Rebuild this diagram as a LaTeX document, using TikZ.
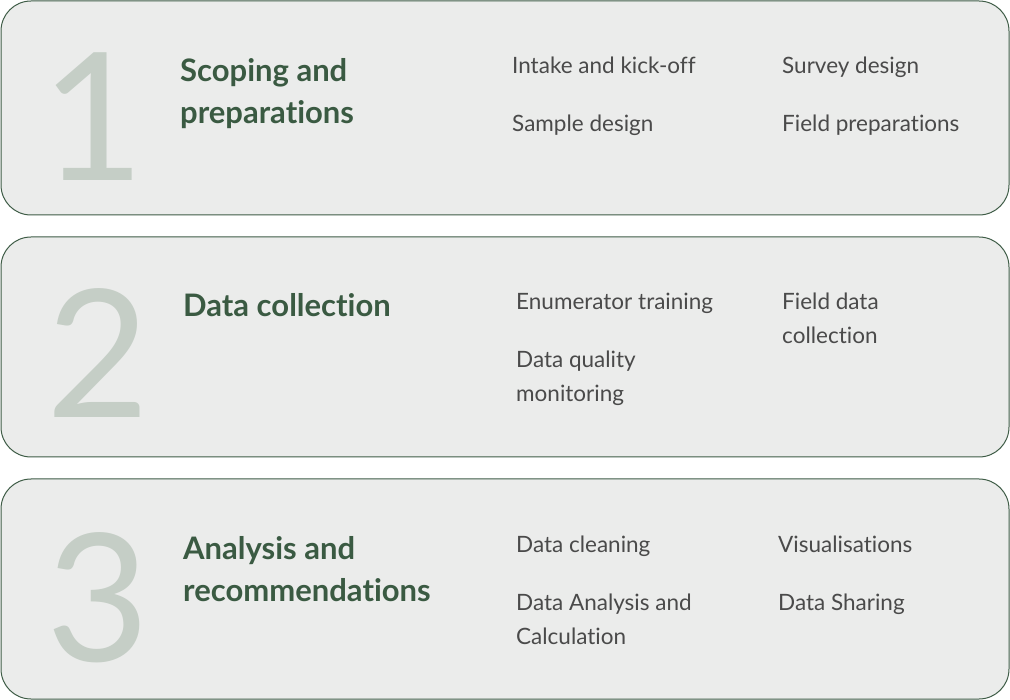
\documentclass[tikz,border=0pt]{standalone}
\usepackage{fontspec}
\setmainfont{Lato}[Ligatures={NoCommon}]
\definecolor{boxfill}{HTML}{EBECEB}
\definecolor{boxline}{HTML}{3E5C46}
\definecolor{numcol}{HTML}{C5CEC6}
\definecolor{titlecol}{HTML}{3A5A42}
\definecolor{itemcol}{HTML}{4A4A4A}
\tikzset{
  stagebox/.style={draw=boxline, fill=boxfill, line width=1pt, rounded corners=30pt},
  bignum/.style={anchor=base west, inner sep=0pt, text=numcol, font=\fontsize{178}{178}\selectfont},
  title/.style={anchor=base west, inner sep=0pt, text=titlecol, font=\bfseries\fontsize{31}{42}\selectfont, align=left},
  item/.style={anchor=base west, inner sep=0pt, text=itemcol, font=\fontsize{22.5}{34}\selectfont, align=left},
}
\begin{document}
\begin{tikzpicture}[x=1pt,y=-1pt]
\useasboundingbox (0,0) rectangle (1010,700);
% boxes
\draw[stagebox] (1,1) rectangle (1009,215);
\draw[stagebox] (1,237) rectangle (1009,457);
\draw[stagebox] (1,479) rectangle (1009,699);
% numbers
\node[bignum] (n1) at (41,181) {1};
\node[bignum] (n2) at (46,418) {2};
\node[bignum] (n3) at (46,661) {3};
% titles
\node[title] (t1a) at (180,82) {Scoping and};
\node[title] (t1b) at (180,124) {preparations};
\node[title] (t2) at (183,317) {Data collection};
\node[title] (t3a) at (183,559) {Analysis and};
\node[title] (t3b) at (183,601) {recommendations};
% items box 1
\node[item] (i11) at (512,74) {Intake and kick-off};
\node[item] (i12) at (512,132) {Sample design};
\node[item] (i13) at (782,74) {Survey design};
\node[item] (i14) at (782,132) {Field preparations};
% items box 2
\node[item] (i21) at (516,310) {Enumerator training};
\node[item] (i22) at (516,368) {Data quality};
\node[item] (i22b) at (516,402) {monitoring};
\node[item] (i23) at (782,310) {Field data};
\node[item] (i23b) at (782,344) {collection};
% items box 3
\node[item] (i31) at (516,552) {Data cleaning};
\node[item] (i32) at (516,610) {Data Analysis and};
\node[item] (i32b) at (516,644) {Calculation};
\node[item] (i33) at (778,552) {Visualisations};
\node[item] (i34) at (778,610) {Data Sharing};
\end{tikzpicture}
\end{document}
